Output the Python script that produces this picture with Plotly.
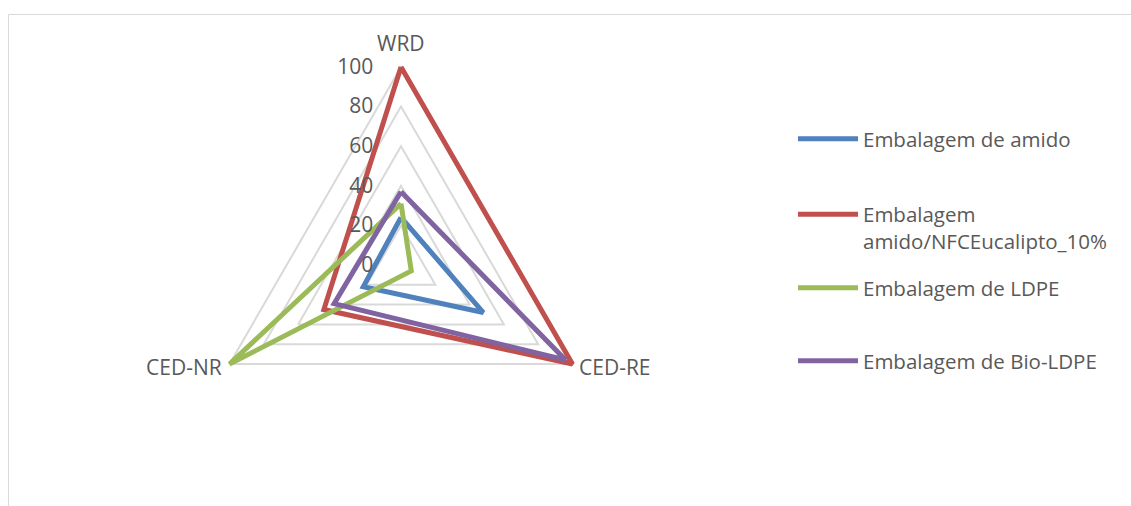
import plotly.graph_objects as go

# Axes of the radar (clockwise from top)
categories = ["WRD", "CED-RE", "CED-NR"]

# Normalised scores (0-100) per packaging type
amido = [24, 48, 22]
amido_nfc = [100, 100, 45]
ldpe = [31, 6, 100]
bio_ldpe = [37, 96, 39]

series_names = [
    "Embalagem de amido",
    "Embalagem<br>amido/NFCEucalipto_10%",
    "Embalagem de LDPE",
    "Embalagem de Bio-LDPE",
]
series_colors = ["#4F81BD", "#C0504D", "#9BBB59", "#8064A2"]
series_values = [amido, amido_nfc, ldpe, bio_ldpe]

radial_ticks = [0, 20, 40, 60, 80, 100]
R_MAX = 104  # a little headroom so the thick outline at 100 is not clipped

FONT = "Open Sans"
GRAY = "#595959"
W, H = 1131, 506

fig = go.Figure()

legend_ids = ["legend", "legend2", "legend3", "legend4"]
for name, color, vals, lg in zip(series_names, series_colors, series_values, legend_ids):
    fig.add_trace(go.Scatterpolar(
        r=vals + vals[:1],
        theta=categories + categories[:1],
        mode="lines",
        name=name,
        line=dict(color=color, width=5, shape="linear"),
        legend=lg,
        showlegend=True,
        hoverinfo="name+theta+r",
    ))

# polar area: centre (401, 265), value 100 at 198 px from the centre
cx, cy = 401, 265
R100 = 198
R = R100 * R_MAX / 100
fig.update_layout(
    width=W,
    height=H,
    margin=dict(l=0, r=0, t=0, b=0),
    paper_bgcolor="white",
    showlegend=True,
    font=dict(family=FONT, size=20, color=GRAY),
    polar=dict(
        domain=dict(x=[(cx - R) / W, (cx + R) / W], y=[1 - (cy + R) / H, 1 - (cy - R) / H]),
        bgcolor="white",
        gridshape="linear",
        radialaxis=dict(
            range=[0, R_MAX],
            tickvals=radial_ticks,
            ticktext=[str(v) for v in radial_ticks],
            angle=90,
            side="counterclockwise",
            showline=False,
            gridcolor="#D9D9D9",
            gridwidth=1.5,
            ticks="outside",
            ticklen=20,
            tickcolor="rgba(0,0,0,0)",
            tickfont=dict(family=FONT, size=21, color=GRAY),
            tickangle=90,
        ),
        angularaxis=dict(
            rotation=90,
            direction="clockwise",
            showgrid=False,
            showline=False,
            ticks="",
            showticklabels=False,
        ),
    ),
)

# category labels placed just outside each vertex
label_pos = {
    "WRD": dict(x=cx, y=cy - R100 - 24, xanchor="center"),
    "CED-RE": dict(x=cx + R100 * 0.866 + 5, y=cy + R100 * 0.5 + 3, xanchor="left"),
    "CED-NR": dict(x=cx - R100 * 0.866 - 6, y=cy + R100 * 0.5 + 3, xanchor="right"),
}
for cat in categories:
    p = label_pos[cat]
    fig.add_annotation(
        x=p["x"] / W, y=1 - p["y"] / H, xref="paper", yref="paper",
        text=cat, showarrow=False, xanchor=p["xanchor"], yanchor="middle",
        font=dict(family=FONT, size=21, color=GRAY),
    )

# one legend per series, stacked on the right
legend_rows = [139, 228, 288, 361]
for lg, row in zip(legend_ids, legend_rows):
    fig.update_layout(**{lg: dict(
        x=793 / W,
        y=1 - row / H,
        xanchor="left",
        yanchor="middle",
        valign="top",
        bgcolor="rgba(0,0,0,0)",
        borderwidth=0,
        itemwidth=60,
        font=dict(family=FONT, size=20.5, color=GRAY),
    )})

# chart-area frame
fig.add_shape(type="rect", xref="paper", yref="paper",
              x0=8.5 / W, x1=1.02, y0=-0.05, y1=1 - 14.5 / H,
              line=dict(color="#D9D9D9", width=1), layer="below")

fig.write_html("out.html")
